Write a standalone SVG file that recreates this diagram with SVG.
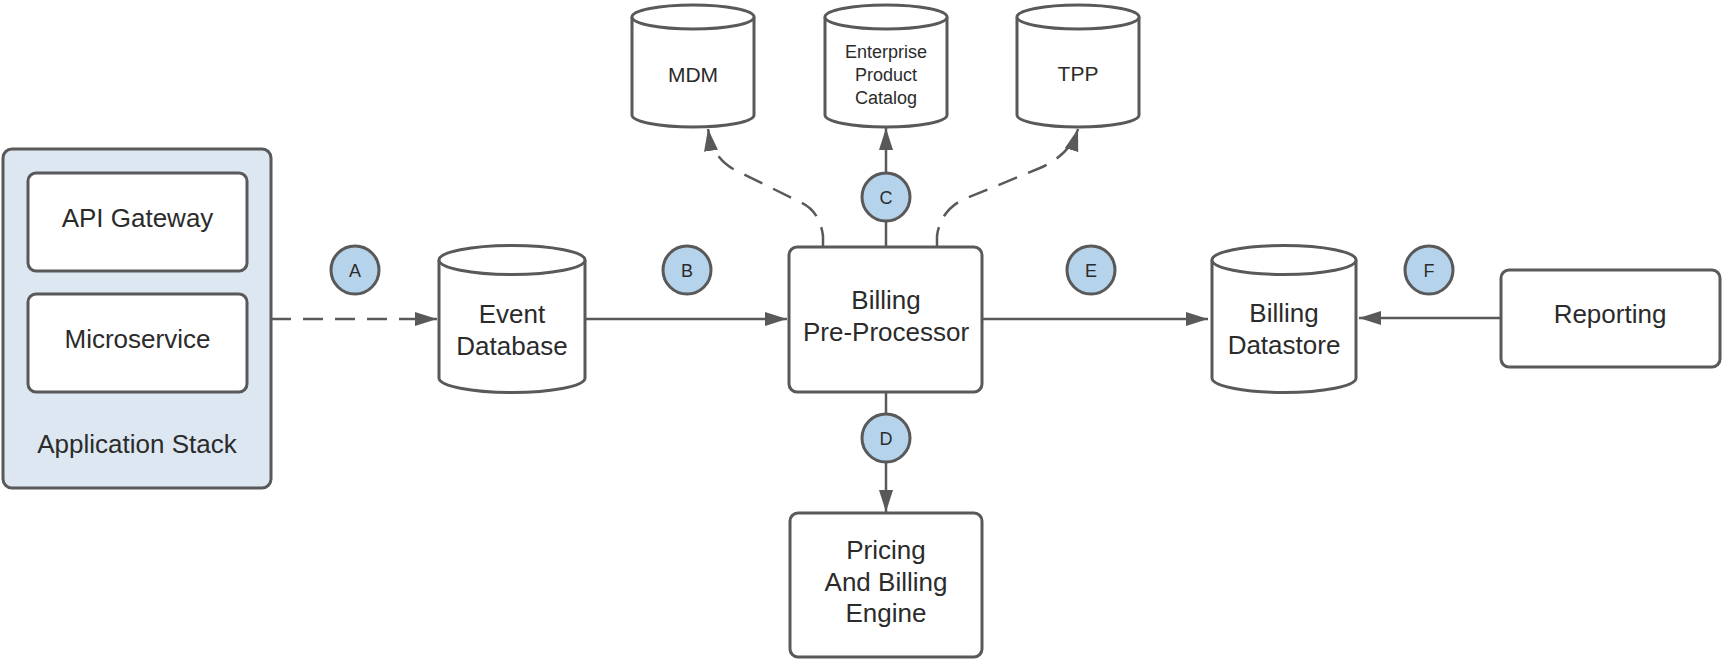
<svg xmlns="http://www.w3.org/2000/svg" width="1725" height="663" viewBox="0 0 1725 663">
<defs>
<style>
.shape{fill:#ffffff;stroke:#595959;stroke-width:3}
.stack{fill:#dce7f2;stroke:#595959;stroke-width:3}
.badge{fill:#b6d3ec;stroke:#595959;stroke-width:3}
.conn{fill:none;stroke:#595959;stroke-width:2.5}
.dash{stroke-dasharray:20 12}
text{font-family:"Liberation Sans",Arial,sans-serif;fill:#2b2b2b;text-anchor:middle}
.lbl{font-size:26px}
.sm{font-size:21px}
.xs{font-size:18px}
.bl{font-size:18px}
</style>
<marker id="arrow" markerUnits="userSpaceOnUse" markerWidth="24" markerHeight="16" refX="22" refY="7" orient="auto">
<path d="M0,0 L22,7 L0,14 z" fill="#595959"/>
</marker>
</defs>
<rect width="1725" height="663" fill="#ffffff"/>

<g id="connectors">
<path class="conn dash" d="M271,319 L437,319" marker-end="url(#arrow)"/>
<path class="conn" d="M585,319 L787,319" marker-end="url(#arrow)"/>
<path class="conn" d="M886,247 L886,128" marker-end="url(#arrow)"/>
<path class="conn dash" d="M823,247 L823,236 Q820,211 800,202 L735,170 Q712,158 708,129" marker-end="url(#arrow)"/>
<path class="conn dash" d="M937,247 L937,236 Q940,212 962,200 L1040,168 Q1070,155 1078,129" marker-end="url(#arrow)"/>
<path class="conn" d="M886,392 L886,512" marker-end="url(#arrow)"/>
<path class="conn" d="M982,319 L1208,319" marker-end="url(#arrow)"/>
<path class="conn" d="M1501,318 L1359,318" marker-end="url(#arrow)"/>
</g>

<g id="application-stack">
<rect class="stack" x="3" y="149" width="268" height="339" rx="9"/>
<text class="lbl" x="137" y="453">Application Stack</text>
</g>
<g id="api-gateway">
<rect class="shape" x="28" y="173" width="219" height="98" rx="8"/>
<text class="lbl" x="137.5" y="227">API Gateway</text>
</g>
<g id="microservice">
<rect class="shape" x="28" y="294" width="219" height="98" rx="8"/>
<text class="lbl" x="137.5" y="348">Microservice</text>
</g>

<g id="event-database">
<path class="shape" d="M439,260 A73,14.5 0 0 1 585,260 L585,378 A73,14.5 0 0 1 439,378 Z"/>
<path class="shape" d="M439,260 A73,14.5 0 0 0 585,260"/>
<text class="lbl" x="512" y="323">Event</text>
<text class="lbl" x="512" y="355">Database</text>
</g>

<g id="billing-pre-processor">
<rect class="shape" x="789" y="247" width="193" height="145" rx="8"/>
<text class="lbl" x="886" y="309">Billing</text>
<text class="lbl" x="886" y="341">Pre-Processor</text>
</g>

<g id="pricing-billing-engine">
<rect class="shape" x="790" y="513" width="192" height="144" rx="8"/>
<text class="lbl" x="886" y="559">Pricing</text>
<text class="lbl" x="886" y="591">And Billing</text>
<text class="lbl" x="886" y="622">Engine</text>
</g>

<g id="mdm">
<path class="shape" d="M632,17 A61,12 0 0 1 754,17 L754,115 A61,12 0 0 1 632,115 Z"/>
<path class="shape" d="M632,17 A61,12 0 0 0 754,17"/>
<text class="sm" x="693" y="82">MDM</text>
</g>

<g id="enterprise-product-catalog">
<path class="shape" d="M825,17 A61,12 0 0 1 947,17 L947,115 A61,12 0 0 1 825,115 Z"/>
<path class="shape" d="M825,17 A61,12 0 0 0 947,17"/>
<text class="xs" x="886" y="58">Enterprise</text>
<text class="xs" x="886" y="81">Product</text>
<text class="xs" x="886" y="104">Catalog</text>
</g>

<g id="tpp">
<path class="shape" d="M1017,17 A61,12 0 0 1 1139,17 L1139,115 A61,12 0 0 1 1017,115 Z"/>
<path class="shape" d="M1017,17 A61,12 0 0 0 1139,17"/>
<text class="sm" x="1078" y="81">TPP</text>
</g>

<g id="billing-datastore">
<path class="shape" d="M1212,260 A72,14.5 0 0 1 1356,260 L1356,378 A72,14.5 0 0 1 1212,378 Z"/>
<path class="shape" d="M1212,260 A72,14.5 0 0 0 1356,260"/>
<text class="lbl" x="1284" y="322">Billing</text>
<text class="lbl" x="1284" y="354">Datastore</text>
</g>

<g id="reporting">
<rect class="shape" x="1501" y="270" width="219" height="97" rx="8"/>
<text class="lbl" x="1610" y="323">Reporting</text>
</g>

<g id="badge-a"><circle class="badge" cx="355" cy="270" r="24"/><text class="bl" x="355" y="277">A</text></g>
<g id="badge-b"><circle class="badge" cx="687" cy="270" r="24"/><text class="bl" x="687" y="277">B</text></g>
<g id="badge-c"><circle class="badge" cx="886" cy="197" r="24"/><text class="bl" x="886" y="204">C</text></g>
<g id="badge-d"><circle class="badge" cx="886" cy="438" r="24"/><text class="bl" x="886" y="445">D</text></g>
<g id="badge-e"><circle class="badge" cx="1091" cy="270" r="24"/><text class="bl" x="1091" y="277">E</text></g>
<g id="badge-f"><circle class="badge" cx="1429" cy="270" r="24"/><text class="bl" x="1429" y="277">F</text></g>
</svg>
